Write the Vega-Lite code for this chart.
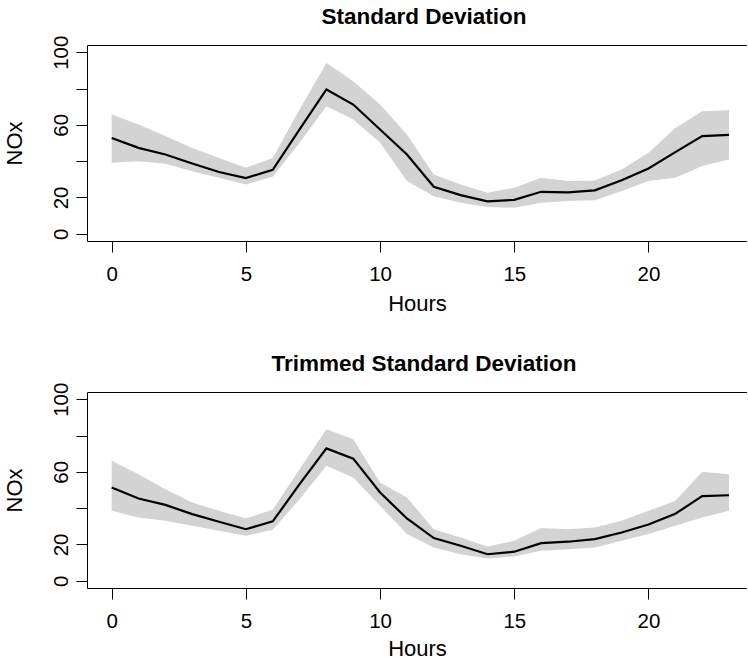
{
  "$schema": "https://vega.github.io/schema/vega-lite/v6.json",
  "padding": {"left": 3, "top": 5, "right": 0, "bottom": 0},
  "background": "white",
  "config": {
    "view": {"stroke": null},
    "font": "Liberation Sans",
    "axis": {"grid": false, "domainColor": "#000000", "domainWidth": 1, "tickColor": "#000000", "tickWidth": 1, "tickSize": 11, "labelFont": "Liberation Sans", "labelFontSize": 20.5, "labelColor": "#000000", "labelOverlap": false, "titleFont": "Liberation Sans", "titleFontSize": 22, "titleFontWeight": "normal", "titleColor": "#000000"},
    "title": {"font": "Liberation Sans", "fontSize": 22.5, "fontWeight": "bold", "color": "#000000"}
  },
  "datasets": {
    "sd": [
      {"hour": 0, "mean": 52.8, "lo": 39.1, "hi": 65.7},
      {"hour": 1, "mean": 47.3, "lo": 40.0, "hi": 60.2},
      {"hour": 2, "mean": 43.7, "lo": 38.5, "hi": 53.8},
      {"hour": 3, "mean": 38.7, "lo": 34.5, "hi": 47.3},
      {"hour": 4, "mean": 34.0, "lo": 30.8, "hi": 41.8},
      {"hour": 5, "mean": 30.7, "lo": 27.2, "hi": 36.3},
      {"hour": 6, "mean": 35.2, "lo": 31.4, "hi": 41.8},
      {"hour": 7, "mean": 57.5, "lo": 50.1, "hi": 68.5},
      {"hour": 8, "mean": 79.5, "lo": 70.3, "hi": 94.1},
      {"hour": 9, "mean": 71.2, "lo": 62.9, "hi": 84.0},
      {"hour": 10, "mean": 57.4, "lo": 50.1, "hi": 71.2},
      {"hour": 11, "mean": 43.7, "lo": 29.0, "hi": 54.7},
      {"hour": 12, "mean": 25.9, "lo": 20.7, "hi": 32.7},
      {"hour": 13, "mean": 21.3, "lo": 17.1, "hi": 27.2},
      {"hour": 14, "mean": 17.8, "lo": 14.7, "hi": 22.6},
      {"hour": 15, "mean": 18.7, "lo": 14.3, "hi": 25.3},
      {"hour": 16, "mean": 23.1, "lo": 17.1, "hi": 30.8},
      {"hour": 17, "mean": 22.8, "lo": 18.0, "hi": 29.0},
      {"hour": 18, "mean": 23.9, "lo": 18.5, "hi": 29.4},
      {"hour": 19, "mean": 29.5, "lo": 23.5, "hi": 35.4},
      {"hour": 20, "mean": 36.0, "lo": 29.0, "hi": 44.6},
      {"hour": 21, "mean": 45.0, "lo": 30.8, "hi": 58.3},
      {"hour": 22, "mean": 53.8, "lo": 37.3, "hi": 67.5},
      {"hour": 23, "mean": 54.5, "lo": 40.9, "hi": 68.1}
    ],
    "tsd": [
      {"hour": 0, "mean": 51.4, "lo": 38.5, "hi": 66.1},
      {"hour": 1, "mean": 45.3, "lo": 34.9, "hi": 58.7},
      {"hour": 2, "mean": 41.8, "lo": 33.0, "hi": 50.4},
      {"hour": 3, "mean": 36.7, "lo": 30.3, "hi": 43.1},
      {"hour": 4, "mean": 32.5, "lo": 27.5, "hi": 38.5},
      {"hour": 5, "mean": 28.4, "lo": 24.8, "hi": 34.3},
      {"hour": 6, "mean": 32.7, "lo": 28.1, "hi": 39.1},
      {"hour": 7, "mean": 53.2, "lo": 44.9, "hi": 61.5},
      {"hour": 8, "mean": 72.9, "lo": 63.3, "hi": 83.5},
      {"hour": 9, "mean": 67.3, "lo": 56.9, "hi": 78.0},
      {"hour": 10, "mean": 48.6, "lo": 41.3, "hi": 54.1},
      {"hour": 11, "mean": 34.3, "lo": 25.7, "hi": 45.9},
      {"hour": 12, "mean": 23.5, "lo": 18.3, "hi": 28.4},
      {"hour": 13, "mean": 19.3, "lo": 14.6, "hi": 23.8},
      {"hour": 14, "mean": 14.6, "lo": 12.3, "hi": 18.9},
      {"hour": 15, "mean": 16.0, "lo": 13.4, "hi": 22.0},
      {"hour": 16, "mean": 20.7, "lo": 16.5, "hi": 29.0},
      {"hour": 17, "mean": 21.5, "lo": 17.4, "hi": 28.4},
      {"hour": 18, "mean": 22.9, "lo": 18.3, "hi": 29.4},
      {"hour": 19, "mean": 26.6, "lo": 22.0, "hi": 33.0},
      {"hour": 20, "mean": 31.0, "lo": 25.7, "hi": 38.5},
      {"hour": 21, "mean": 36.9, "lo": 30.3, "hi": 44.1},
      {"hour": 22, "mean": 46.6, "lo": 34.9, "hi": 60.0},
      {"hour": 23, "mean": 47.1, "lo": 38.5, "hi": 58.7}
    ]
  },
  "spacing": 37,
  "vconcat": [
    {
      "width": 660,
      "height": 196,
      "title": {"text": "Standard Deviation", "anchor": "middle", "baseline": "alphabetic", "offset": -11, "dx": 7},
      "data": {"name": "sd"},
      "resolve": {"axis": {"x": "independent"}},
      "layer": [
        {
          "mark": {"type": "area", "color": "#d3d3d3", "opacity": 1},
          "encoding": {
            "x": {"field": "hour", "type": "quantitative", "scale": {"domain": [-0.92, 23.67], "nice": false, "zero": false}, "axis": {"title": "Hours", "values": [0, 5, 10, 15, 20], "tickCount": 20, "labelPadding": 12, "labelBaseline": "top", "titlePadding": 9}},
            "y": {"field": "lo", "type": "quantitative", "scale": {"domain": [-4, 104], "nice": false}, "axis": {"title": "NOx", "values": [0, 20, 40, 60, 80, 100], "tickCount": 20, "labelOverlap": false, "labelExpr": "datum.value == 40 || datum.value == 80 ? '' : datum.label", "labelAngle": -90, "labelAlign": "center", "labelBaseline": "alphabetic", "labelPadding": 9, "titlePadding": 24.5}},
            "y2": {"field": "hi"}
          }
        },
        {
          "mark": {"type": "line", "color": "#000000", "strokeWidth": 2.2},
          "encoding": {
            "x": {"field": "hour", "type": "quantitative", "axis": {"orient": "top", "title": null, "labels": false, "ticks": false, "domain": true, "minExtent": 0, "maxExtent": 0}},
            "y": {"field": "mean", "type": "quantitative"}
          }
        }
      ]
    },
    {
      "width": 660,
      "height": 196,
      "title": {"text": "Trimmed Standard Deviation", "anchor": "middle", "baseline": "alphabetic", "offset": -11, "dx": 7},
      "data": {"name": "tsd"},
      "resolve": {"axis": {"x": "independent"}},
      "layer": [
        {
          "mark": {"type": "area", "color": "#d3d3d3", "opacity": 1},
          "encoding": {
            "x": {"field": "hour", "type": "quantitative", "scale": {"domain": [-0.92, 23.67], "nice": false, "zero": false}, "axis": {"title": "Hours", "values": [0, 5, 10, 15, 20], "tickCount": 20, "labelPadding": 12, "labelBaseline": "top", "titlePadding": 7}},
            "y": {"field": "lo", "type": "quantitative", "scale": {"domain": [-4, 104], "nice": false}, "axis": {"title": "NOx", "values": [0, 20, 40, 60, 80, 100], "tickCount": 20, "labelOverlap": false, "labelExpr": "datum.value == 40 || datum.value == 80 ? '' : datum.label", "labelAngle": -90, "labelAlign": "center", "labelBaseline": "alphabetic", "labelPadding": 9, "titlePadding": 24.5}},
            "y2": {"field": "hi"}
          }
        },
        {
          "mark": {"type": "line", "color": "#000000", "strokeWidth": 2.2},
          "encoding": {
            "x": {"field": "hour", "type": "quantitative", "axis": {"orient": "top", "title": null, "labels": false, "ticks": false, "domain": true, "minExtent": 0, "maxExtent": 0}},
            "y": {"field": "mean", "type": "quantitative"}
          }
        }
      ]
    }
  ]
}
